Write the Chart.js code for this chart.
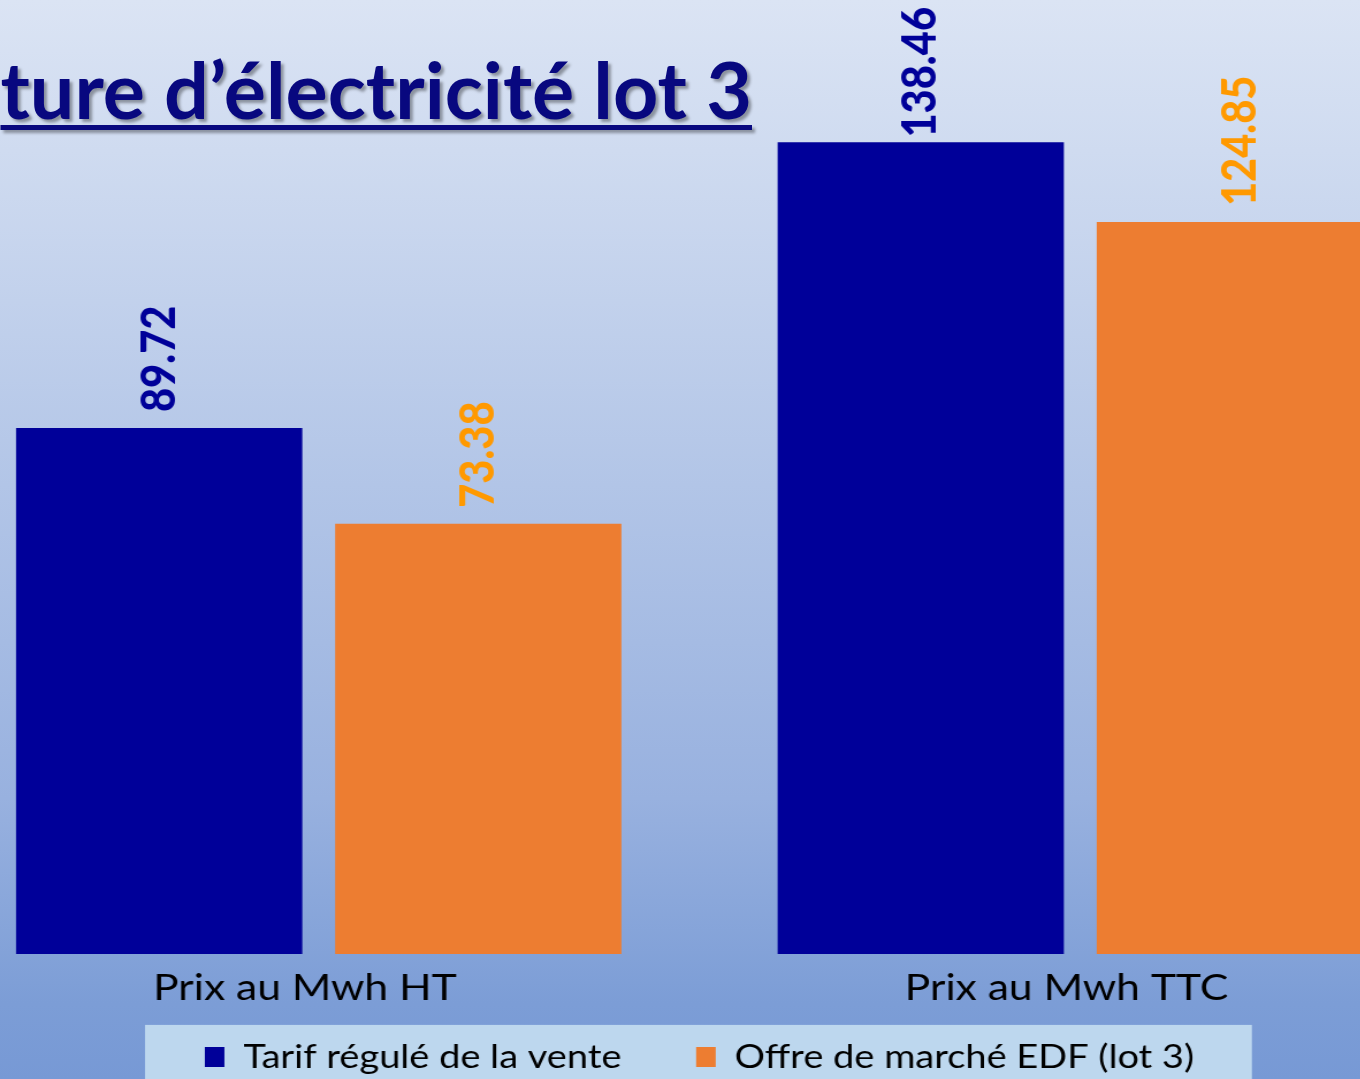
<!DOCTYPE html>
<html>
<head>
<meta charset="utf-8">
<script src="https://cdn.jsdelivr.net/npm/chart.js@4.4.1/dist/chart.umd.min.js"></script>
<style>
    html, body {
        margin: 0;
        padding: 0;
        width: 1360px;
        height: 1079px;
        overflow: hidden;
    }
    body {
        position: relative;
        background: linear-gradient(180deg, #dbe4f4 0%, #cfdbf0 14%, #b2c5e7 45%, #98b1df 74%, #7c9dd6 93%, #7799d5 100%);
    }
    /* the original chart picture was stretched sideways */
    #stretch {
        position: absolute;
        left: 0;
        top: 0;
        width: 1360px;
        height: 1079px;
        transform-origin: 0 0;
        transform: scaleX(1.15);
    }
    #chartBox {
        position: absolute;
        left: -53.9px;
        top: 0;
        width: 1323.5px;
        height: 1130.4px;
    }
    #title {
        position: absolute;
        right: 608px;
        top: 41px;
        white-space: nowrap;
        font-family: Lato, 'Open Sans', sans-serif;
        font-weight: 700;
        font-size: 79px;
        color: #08087f;
        text-decoration: underline;
        text-decoration-thickness: 5px;
        text-underline-offset: 6px;
        text-shadow: 3px 3px 3px rgba(0, 0, 0, 0.35);
    }
</style>
</head>
<body>
<div id="stretch">
    <div id="chartBox"><canvas id="lotChart"></canvas></div>
</div>
<div id="title">ture d’électricité lot 3</div>
<script>
// Chart data
const categories = ['Prix au Mwh HT', 'Prix au Mwh TTC'];
const seriesNames = ['Tarif régulé de la vente', 'Offre de marché EDF (lot 3)'];
const tarifRegule = [89.72, 138.46];
const offreMarche = [73.38, 124.85];

const barColors = ['#000099', '#ED7D31'];
const labelColors = ['#000099', '#FF9900'];
const fontFamily = "Lato, 'Open Sans', sans-serif";

// Rotated value labels above each bar
const valueLabels = {
    id: 'valueLabels',
    afterDatasetsDraw(chart) {
        const ctx = chart.ctx;
        ctx.save();
        ctx.font = '900 41.6px ' + fontFamily;
        chart.data.datasets.forEach(function(ds, i) {
            chart.getDatasetMeta(i).data.forEach(function(bar, j) {
                const text = ds.data[j].toFixed(2);
                const len = ctx.measureText(text).width;
                let start = bar.y - 16;
                if (start - len < 7) start = 7 + len;
                ctx.save();
                ctx.translate(bar.x, start);
                ctx.rotate(-Math.PI / 2);
                ctx.fillStyle = labelColors[i];
                ctx.textAlign = 'left';
                ctx.textBaseline = 'middle';
                ctx.fillText(text, 0, 0);
                ctx.restore();
            });
        });
        ctx.restore();
    }
};

// Pull the legend up closer to the axis labels (keeps the wide item gap)
const legendShift = {
    id: 'legendShift',
    afterLayout(chart) {
        if (chart.legend) {
            chart.legend.top -= 47;
            chart.legend.bottom -= 47;
        }
    }
};

// Light box behind the legend
const legendBox = {
    id: 'legendBox',
    beforeDraw(chart) {
        const lg = chart.legend;
        if (!lg) return;
        const ctx = chart.ctx;
        const cx = chart.width / 2 - 0.9;
        ctx.save();
        ctx.fillStyle = '#bdd7ee';
        ctx.fillRect(cx - 480.9, lg.top + 49.5, 961.8, 200);
        ctx.restore();
    }
};

new Chart(document.getElementById('lotChart'), {
    type: 'bar',
    data: {
        labels: categories,
        datasets: [
            {
                label: seriesNames[0],
                data: tarifRegule,
                backgroundColor: barColors[0]
            },
            {
                label: seriesNames[1],
                data: offreMarche,
                backgroundColor: barColors[1]
            }
        ]
    },
    options: {
        responsive: true,
        maintainAspectRatio: false,
        animation: false,
        layout: {
            padding: { top: 16, bottom: 0 }
        },
        datasets: {
            bar: {
                categoryPercentage: 0.838,
                barPercentage: 0.897
            }
        },
        plugins: {
            legend: {
                position: 'bottom',
                labels: {
                    color: '#000',
                    font: { family: fontFamily, size: 33 },
                    boxWidth: 17,
                    boxHeight: 20,
                    padding: 65
                }
            },
            tooltip: { enabled: false }
        },
        scales: {
            x: {
                grid: { display: false, drawTicks: false },
                border: { display: false },
                ticks: {
                    color: '#000',
                    padding: 12,
                    labelOffset: -12,
                    font: { family: fontFamily, size: 37 }
                }
            },
            y: {
                display: false,
                min: 0,
                max: 160
            }
        }
    },
    plugins: [legendShift, legendBox, valueLabels]
});
</script>
</body>
</html>
